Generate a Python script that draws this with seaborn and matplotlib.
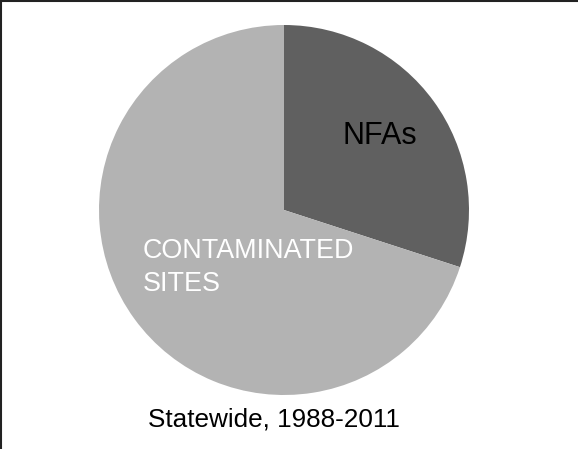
import matplotlib
matplotlib.use("Agg")
import matplotlib.pyplot as plt
import seaborn as sns

# Data
categories = ["NFAs", "CONTAMINATED SITES"]
shares = [30, 70]
slice_colors = ["#606060", "#b3b3b3"]
caption = "Statewide, 1988-2011"

sns.set_theme(style="white")
plt.rcParams['font.family'] = ['Liberation Sans', 'DejaVu Sans']

W, H = 578, 449
fig = plt.figure(figsize=(W / 100, H / 100), dpi=100)
ax = fig.add_axes([0, 0, 1, 1])
ax.axis("off")

# pie, centre and radius in pixel units of this axes
ax.pie(shares, colors=slice_colors, startangle=90, counterclock=False,
       center=(284, H - 210), radius=185, wedgeprops=dict(linewidth=0))
ax.set_xlim(0, W)
ax.set_ylim(0, H)
ax.set_aspect("auto")

# labels
ax.text(380, H - 136, categories[0], ha="center", va="center",
        fontsize=22, color="black")
for i, line in enumerate(categories[1].split(" ")):
    ax.text(143, H - 258 - 33 * i, line, ha="left", va="baseline",
            fontsize=19.4, color="white")

ax.text(273.5, H - 427, caption, ha="center", va="baseline",
        fontsize=18.8, color="black")

# frame: top and left edges
fig.add_artist(plt.Line2D([0, 1], [1 - 1 / H, 1 - 1 / H], transform=fig.transFigure,
                          color="#222222", linewidth=1.5))
fig.add_artist(plt.Line2D([1 / W, 1 / W], [0, 1], transform=fig.transFigure,
                          color="#222222", linewidth=1.5))

fig.savefig("out.png", dpi=100)
